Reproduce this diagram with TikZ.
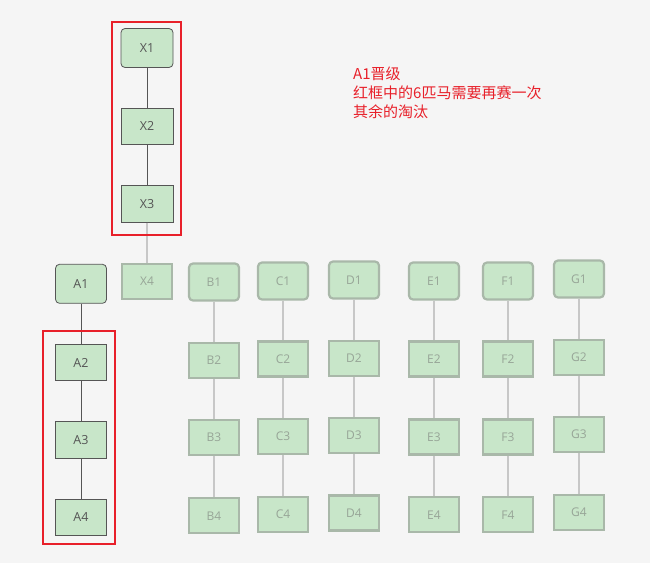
\documentclass[tikz,border=0pt]{standalone}
\usepackage{fontspec}
\setmainfont{Open Sans}
\newfontfamily\cjk{Noto Sans CJK SC}
\definecolor{bgc}{HTML}{F5F5F5}
\definecolor{nodefill}{HTML}{C8E6C9}
\definecolor{edgec}{HTML}{555555}
\definecolor{redc}{HTML}{E8202A}
\definecolor{blurdraw}{HTML}{A9B8A9}
\definecolor{blurtext}{HTML}{97A597}
\begin{document}
\begin{tikzpicture}[x=1pt,y=-1pt,
  sharpnode/.style={draw=edgec,fill=nodefill,line width=0.8pt,minimum width=52pt,minimum height=37pt,inner sep=0pt,text=edgec,font=\fontsize{12.5}{14}\selectfont},
  topnode/.style={sharpnode,rounded corners=4pt,minimum height=39pt},
  blurnode/.style={draw=blurdraw,fill=nodefill,line width=2.2pt,minimum width=50pt,minimum height=35pt,inner sep=0pt,text=blurtext,font=\fontsize{12}{14}\selectfont},
  blurtop/.style={blurnode,rounded corners=4pt,minimum height=37pt},
  link/.style={draw=edgec,line width=0.7pt},
  blurlink/.style={draw=black!22,line width=1.8pt},
  redbox/.style={draw=redc,line width=1.8pt,inner sep=0pt},
  note/.style={text=redc,font=\cjk\fontsize{15}{19}\selectfont,align=left,anchor=base west,inner sep=0pt}]
\fill[bgc] (0,0) rectangle (650,563);
\useasboundingbox (0,0) rectangle (650,563);
% X column
\node[topnode] (X1) at (147,48) {X1};
\node[sharpnode,minimum height=36pt] (X2) at (147,126.3) {X2};
\node[sharpnode] (X3) at (147,203.7) {X3};
\node[blurnode] (X4) at (147,281.3) {X4};
% A column
\node[topnode,minimum width=51pt] (A1) at (81,283.8) {A1};
\node[sharpnode,minimum width=51pt,minimum height=36pt] (A2) at (81,362.5) {A2};
\node[sharpnode,minimum width=51pt] (A3) at (81,439.7) {A3};
\node[sharpnode,minimum width=51pt,minimum height=36pt] (A4) at (81,517.5) {A4};
% blurred columns
\foreach \c/\x/\ya/\yb/\yc/\yd in {B/214/282/360.3/437.7/515.7, C/283/281/359/436.7/514.3, D/354/280/358.3/435.3/513, E/434/281/359/437/514.7, F/508/281/359/437/514.7, G/579/279/357.7/434.7/512.3}{
  \node[blurtop] (\c1) at (\x,\ya) {\c1};
  \node[blurnode] (\c2) at (\x,\yb) {\c2};
  \node[blurnode] (\c3) at (\x,\yc) {\c3};
  \node[blurnode] (\c4) at (\x,\yd) {\c4};
  \draw[blurlink] (\c1) -- (\c2);
  \draw[blurlink] (\c2) -- (\c3);
  \draw[blurlink] (\c3) -- (\c4);
}
% links
\draw[link] (X1) -- (X2);
\draw[link] (X2) -- (X3);
\draw[blurlink] (X3) -- (X4);
\draw[link] (A1) -- (A2);
\draw[link] (A2) -- (A3);
\draw[link] (A3) -- (A4);
% red frames
\node[redbox,minimum width=69.6pt,minimum height=212.7pt] (RX) at (146.5,128.7) {};
\node[redbox,minimum width=72.6pt,minimum height=212.7pt] (RA) at (79,437.3) {};
% note
\node[note] (N) at (353,117) {A1晋级\\红框中的6匹马需要再赛一次\\其余的淘汰};
\end{tikzpicture}
\end{document}
